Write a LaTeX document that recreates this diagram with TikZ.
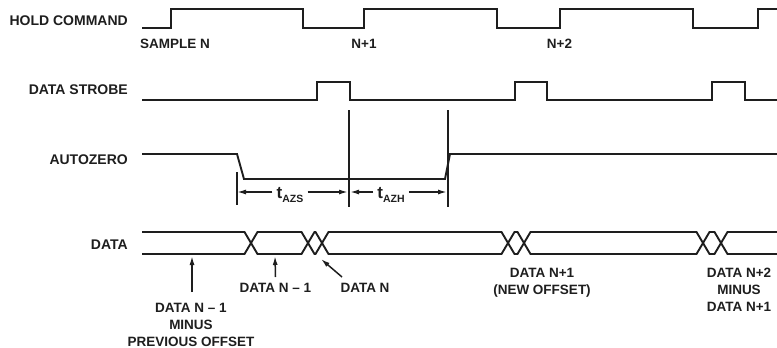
\documentclass[tikz,border=0pt]{standalone}
\usepackage{fontspec}
\setmainfont{Liberation Sans}
\usetikzlibrary{arrows.meta}
\definecolor{ink}{RGB}{30,30,30}
\begin{document}
\begin{tikzpicture}[x=1pt,y=-1pt,
  wave/.style={draw=ink, line width=1.9pt, line join=miter},
  guide/.style={draw=ink, line width=1.5pt},
  arr/.style={draw=ink, line width=1.5pt, -{Latex[length=9pt,width=5pt]}},
  siglabel/.style={anchor=east, font=\bfseries\fontsize{14}{16}\selectfont, text=ink, inner sep=0pt},
  note/.style={font=\bfseries\fontsize{13.5}{17}\selectfont, text=ink, inner sep=0pt, align=center},
  timelbl/.style={font=\bfseries\fontsize{17}{18}\selectfont, text=ink, inner sep=4pt},
]
\useasboundingbox (0,0) rectangle (777,348);

% signal names
\node[siglabel] (lhold)   at (128,21)  {HOLD COMMAND};
\node[siglabel] (lstrobe) at (128,90)  {DATA STROBE};
\node[siglabel] (lauto)   at (128,160) {AUTOZERO};
\node[siglabel] (ldata)   at (128,244.5) {DATA};

% HOLD COMMAND
\draw[wave] (142,28) -- (171,28) -- (171,9) -- (303,9) -- (303,28) -- (364,28) -- (364,9)
  -- (497,9) -- (497,28) -- (560,28) -- (560,9) -- (693,9) -- (693,28) -- (758,28)
  -- (758,9) -- (778,9);
\node[note, anchor=west] (samp) at (140,44) {SAMPLE N};
\node[note] (n1) at (364,44) {N+1};
\node[note] (n2) at (559.5,44) {N+2};

% DATA STROBE
\draw[wave] (142,100) -- (317,100) -- (317,82) -- (350,82) -- (350,100) -- (515,100)
  -- (515,82) -- (547,82) -- (547,100) -- (712,100) -- (712,82) -- (745,82) -- (745,100)
  -- (778,100);

% AUTOZERO
\draw[wave] (142,154) -- (237,154) -- (244,179) -- (445,179) -- (450,154) -- (778,154);

% reference lines
\draw[guide] (349,110) -- (349,207);
\draw[guide] (448,110) -- (448,207);
\draw[guide] (237,172) -- (237,205);

% timing dimensions
\coordinate (azsL) at (237,192);
\coordinate (mid)  at (349,192);
\coordinate (azhR) at (448,192);
\node[timelbl] (tazs) at (290,195) {t\raisebox{-3.5pt}{\fontsize{10.5}{11}\selectfont AZS}};
\node[timelbl] (tazh) at (391,195) {t\raisebox{-3.5pt}{\fontsize{10.5}{11}\selectfont AZH}};
\draw[arr] (tazs.west |- azsL) -- (azsL);
\draw[arr] (tazs.east |- mid) -- ([xshift=-1pt]mid);
\draw[arr] (tazh.west |- mid) -- ([xshift=1pt]mid);
\draw[arr] (tazh.east |- azhR) -- ([xshift=-1pt]azhR);

% DATA bus
\draw[wave] (142,232) -- (244.5,232) -- (257.5,254) -- (301.5,254) -- (314.5,232) -- (315.5,232)
  -- (328.5,254) -- (501.5,254) -- (514.5,232) -- (517.5,232) -- (530.5,254) -- (696.5,254)
  -- (709.5,232) -- (714.5,232) -- (727.5,254) -- (778,254);
\draw[wave] (142,254) -- (244.5,254) -- (257.5,232) -- (301.5,232) -- (314.5,254) -- (315.5,254)
  -- (328.5,232) -- (501.5,232) -- (514.5,254) -- (517.5,254) -- (530.5,232) -- (696.5,232)
  -- (709.5,254) -- (714.5,254) -- (727.5,232) -- (778,232);

% annotations
\node[note, anchor=north] (a1) at (191,303) {DATA N -- 1\\MINUS\\PREVIOUS OFFSET};
\coordinate (b1) at (192,256);
\draw[arr] ([xshift=1pt]a1.north) ++(0,-11) -- (b1);

\node[note, anchor=north] (a2) at (275.5,283) {DATA N -- 1};
\coordinate (b2) at (275,256);
\draw[arr] (a2.north) ++(0,-6) -- (b2);

\node[note] (a3) at (365,288) {DATA N};
\coordinate (c3) at (342,277);
\coordinate (b3) at (321,259);
\draw[arr] (c3) -- (b3);

\node[note, anchor=north] (a4) at (542,268) {DATA N+1\\(NEW OFFSET)};
\node[note, anchor=north] (a5) at (739,268) {DATA N+2\\MINUS\\DATA N+1};
\end{tikzpicture}
\end{document}
